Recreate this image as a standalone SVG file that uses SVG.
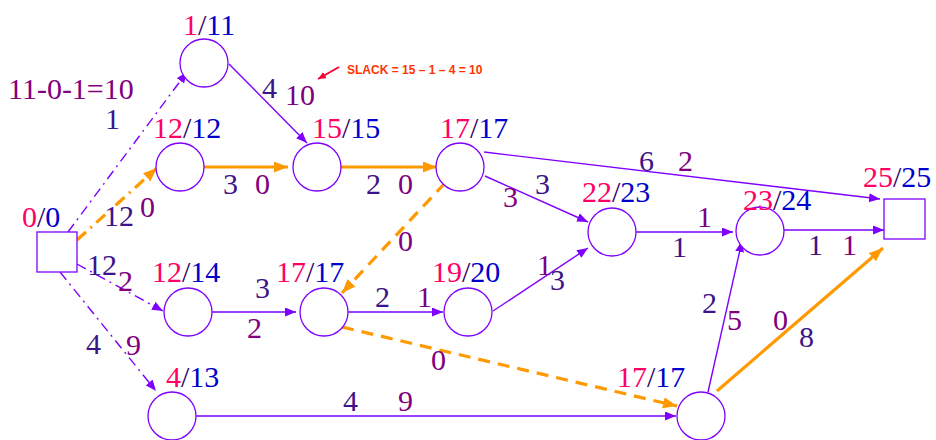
<svg xmlns="http://www.w3.org/2000/svg" width="936" height="440" viewBox="0 0 936 440">
<style>
.n{fill:#fff;stroke:#7F00FF;stroke-width:1.3}
.t{font-family:'Liberation Serif','Times New Roman',Times,serif;font-size:30px}
.r{fill:#FF0066}.s{fill:#330066}.b{fill:#0000CC}
.d{fill:#3C1489}.p{fill:#800080}
.e{fill:none;stroke:#7F00FF;stroke-width:1.4}
.o{fill:none;stroke:#FF9900;stroke-width:3.2}
.dd{stroke-dasharray:10 5 2 5}
.od{stroke-dasharray:12 6 2 6}
.dash{stroke-dasharray:12 8}
.pe{marker-end:url(#ap)}.oe{marker-end:url(#ao)}
</style>
<defs>
<marker id="ap" markerUnits="userSpaceOnUse" markerWidth="12" markerHeight="10" refX="11" refY="4.5" orient="auto"><path d="M0,0 L11,4.5 L0,9 z" fill="#7F00FF"/></marker>
<marker id="ao" markerUnits="userSpaceOnUse" markerWidth="15" markerHeight="12" refX="14" refY="5.5" orient="auto"><path d="M0,0 L14,5.5 L0,11 z" fill="#FF9900"/></marker>
<marker id="ar" markerUnits="userSpaceOnUse" markerWidth="9" markerHeight="8" refX="8" refY="3.5" orient="auto"><path d="M0,0 L8,3.5 L0,7 z" fill="#FF0033"/></marker>
</defs>
<g id="connectors">
<line class="e dd pe" x1="68" y1="232" x2="187" y2="72"/>
<line class="o od oe" x1="77" y1="240" x2="157" y2="168"/>
<line class="e dd pe" x1="77" y1="264" x2="163" y2="311"/>
<line class="e dd pe" x1="60" y1="272" x2="156" y2="391"/>
<line class="e pe" x1="229" y1="64" x2="307" y2="143"/>
<line class="o oe" x1="204" y1="167" x2="288" y2="167"/>
<line class="o oe" x1="341" y1="167" x2="437" y2="167"/>
<line class="e pe" x1="484" y1="152" x2="880" y2="199"/>
<line class="e pe" x1="485" y1="176" x2="588" y2="222"/>
<line class="e pe" x1="636" y1="232" x2="733" y2="232"/>
<line class="e pe" x1="784" y1="230" x2="884" y2="230"/>
<line class="e pe" x1="212" y1="312" x2="296" y2="312"/>
<line class="o dash oe" x1="445" y1="183" x2="342" y2="293"/>
<line class="e pe" x1="348" y1="312" x2="443" y2="312"/>
<line class="e pe" x1="493" y1="311" x2="588" y2="248"/>
<line class="o dash oe" x1="342" y1="327" x2="677" y2="406"/>
<line class="e pe" x1="196" y1="416" x2="676" y2="416"/>
<line class="e pe" x1="708" y1="392" x2="742" y2="241"/>
<line class="o oe" x1="717" y1="391" x2="883" y2="248"/>
<line x1="339" y1="67" x2="318" y2="79" stroke="#FF0033" stroke-width="2" marker-end="url(#ar)"/>
</g>
<g id="start"><rect class="n" x="37" y="232" width="40" height="40"/><text class="t" x="22" y="227"><tspan class="r">0</tspan><tspan class="s">/</tspan><tspan class="b">0</tspan></text></g>
<g id="nA"><circle class="n" cx="204" cy="63" r="24"/><text class="t" x="183" y="35"><tspan class="r">1</tspan><tspan class="s">/</tspan><tspan class="b">11</tspan></text></g>
<g id="nB"><circle class="n" cx="180" cy="167" r="24"/><text class="t" x="153" y="138"><tspan class="r">12</tspan><tspan class="s">/</tspan><tspan class="b">12</tspan></text></g>
<g id="nC"><circle class="n" cx="317" cy="167" r="24"/><text class="t" x="312" y="138"><tspan class="r">15</tspan><tspan class="s">/</tspan><tspan class="b">15</tspan></text></g>
<g id="nD"><circle class="n" cx="460" cy="167" r="24"/><text class="t" x="440" y="138"><tspan class="r">17</tspan><tspan class="s">/</tspan><tspan class="b">17</tspan></text></g>
<g id="nE"><circle class="n" cx="612" cy="232" r="24"/><text class="t" x="582" y="202"><tspan class="r">22</tspan><tspan class="s">/</tspan><tspan class="b">23</tspan></text></g>
<g id="nF"><circle class="n" cx="760" cy="231" r="24"/><text class="t" x="743" y="210"><tspan class="r">23</tspan><tspan class="s">/</tspan><tspan class="b">24</tspan></text></g>
<g id="end"><rect class="n" x="884" y="199" width="41" height="40"/><text class="t" x="863" y="187"><tspan class="r">25</tspan><tspan class="s">/</tspan><tspan class="b">25</tspan></text></g>
<g id="nG"><circle class="n" cx="188" cy="312" r="24"/><text class="t" x="152" y="282"><tspan class="r">12</tspan><tspan class="s">/</tspan><tspan class="b">14</tspan></text></g>
<g id="nH"><circle class="n" cx="324" cy="312" r="24"/><text class="t" x="276" y="282"><tspan class="r">17</tspan><tspan class="s">/</tspan><tspan class="b">17</tspan></text></g>
<g id="nI"><circle class="n" cx="468" cy="312" r="24"/><text class="t" x="432" y="282"><tspan class="r">19</tspan><tspan class="s">/</tspan><tspan class="b">20</tspan></text></g>
<g id="nJ"><circle class="n" cx="172" cy="416" r="24"/><text class="t" x="166" y="387"><tspan class="r">4</tspan><tspan class="s">/</tspan><tspan class="b">13</tspan></text></g>
<g id="nK"><circle class="n" cx="701" cy="416" r="24"/><text class="t" x="617" y="387"><tspan class="r">17</tspan><tspan class="s">/</tspan><tspan class="b">17</tspan></text></g>
<g id="labels" class="t">
<text class="t p" x="8" y="99">11-0-1=10</text>
<text class="t d" x="105" y="129">1</text>
<text class="t d" x="262" y="98">4</text>
<text class="t p" x="285" y="105">10</text>
<text class="t d" x="223" y="194">3</text>
<text class="t p" x="255" y="194">0</text>
<text class="t d" x="104" y="226">12</text>
<text class="t p" x="140" y="217">0</text>
<text class="t d" x="87" y="275">12</text>
<text class="t p" x="118" y="291">2</text>
<text class="t d" x="255" y="298">3</text>
<text class="t p" x="247" y="338">2</text>
<text class="t d" x="86" y="354">4</text>
<text class="t p" x="126" y="355">9</text>
<text class="t d" x="375" y="307">2</text>
<text class="t p" x="417" y="307">1</text>
<text class="t p" x="398" y="251">0</text>
<text class="t p" x="537" y="275">1</text>
<text class="t d" x="550" y="290">3</text>
<text class="t p" x="431" y="370">0</text>
<text class="t d" x="343" y="411">4</text>
<text class="t p" x="398" y="411">9</text>
<text class="t d" x="535" y="194">3</text>
<text class="t p" x="503" y="207">3</text>
<text class="t d" x="366" y="194">2</text>
<text class="t p" x="398" y="194">0</text>
<text class="t d" x="639" y="171">6</text>
<text class="t p" x="678" y="171">2</text>
<text class="t p" x="697" y="227">1</text>
<text class="t d" x="672" y="257">1</text>
<text class="t d" x="808" y="255">1</text>
<text class="t p" x="842" y="255">1</text>
<text class="t d" x="702" y="313">2</text>
<text class="t p" x="727" y="330">5</text>
<text class="t p" x="773" y="330">0</text>
<text class="t d" x="799" y="347">8</text>
</g>
<text x="347" y="74" font-family="'Liberation Sans',Arial,sans-serif" font-size="12" font-weight="bold" fill="#FF3300">SLACK = 15 – 1 – 4 = 10</text>
</svg>
